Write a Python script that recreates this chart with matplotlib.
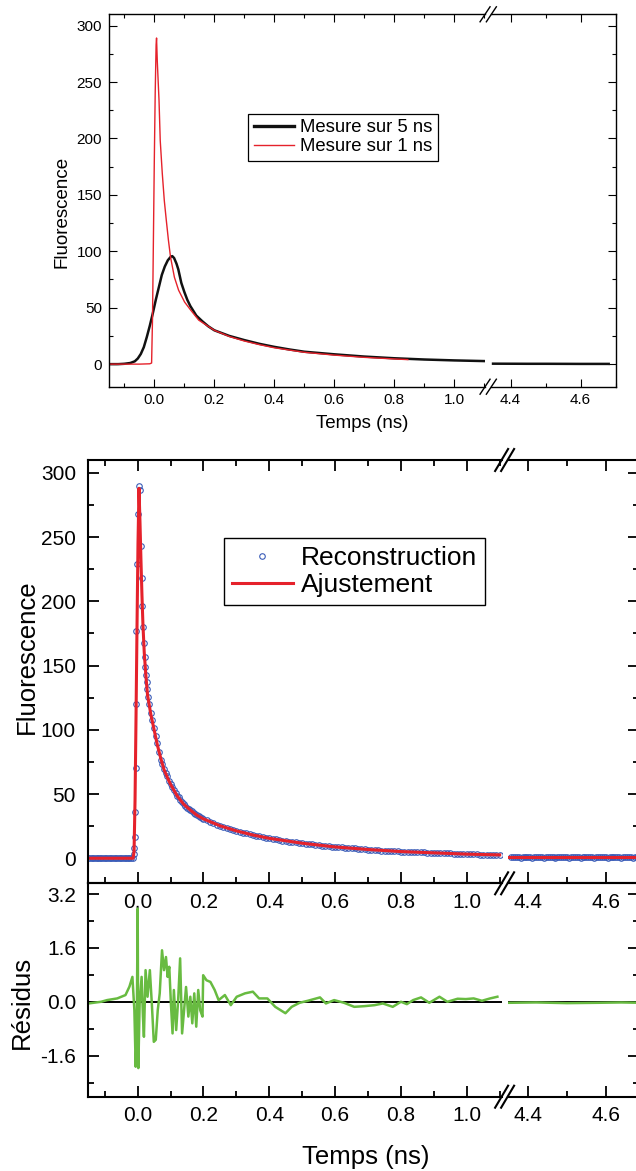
import numpy as np
import matplotlib
matplotlib.use('Agg')
import matplotlib.pyplot as plt
from matplotlib.lines import Line2D
from matplotlib.ticker import MultipleLocator, FormatStrFormatter

plt.rcParams['font.family'] = ['Liberation Sans', 'DejaVu Sans']

# ---------------- donnees ----------------
# mesure sur la fenetre 5 ns (noir)
t_5ns = [-0.15, -0.12, -0.10, -0.08, -0.065, -0.055, -0.045, -0.035, -0.025, -0.015,
         -0.005, 0.005, 0.015, 0.025, 0.035, 0.045, 0.055, 0.060, 0.066, 0.074,
         0.08, 0.09, 0.10, 0.11, 0.12, 0.14, 0.16, 0.18, 0.20, 0.25,
         0.30, 0.35, 0.40, 0.45, 0.50, 0.60, 0.70, 0.80, 0.90, 1.00, 1.10]
v_5ns = [0.0, 0.0, 0.3, 1.0, 2.5, 5.0, 9.0, 15.0, 24.0, 34.0,
         45.0, 57.0, 68.0, 79.0, 86.5, 92.0, 95.2, 95.7, 94.0, 89.0,
         84.0, 72.0, 64.0, 57.0, 51.5, 43.0, 38.0, 33.5, 30.0, 25.0,
         21.3, 18.0, 15.3, 13.0, 11.0, 8.7, 6.7, 5.2, 4.1, 3.3, 2.7]
t_5ns_tail = [4.35, 4.40, 4.45, 4.50, 4.55, 4.60, 4.65, 4.68]
v_5ns_tail = [0.4, 0.35, 0.3, 0.3, 0.25, 0.2, 0.2, 0.2]

# mesure sur la fenetre 1 ns (rouge)
t_1ns = [-0.15, -0.05, -0.015, -0.009, -0.006, -0.003, 0.0, 0.003, 0.006, 0.0075,
         0.010, 0.0157, 0.0198, 0.0266, 0.0333, 0.040, 0.047, 0.054, 0.067, 0.081,
         0.101, 0.121, 0.148, 0.20, 0.25, 0.30, 0.35, 0.40, 0.50, 0.60,
         0.70, 0.80, 0.845]
v_1ns = [0.0, 0.0, 0.3, 1.0, 40.0, 110.0, 180.0, 240.0, 283.0, 289.0,
         268.0, 234.0, 198.0, 169.0, 145.0, 127.5, 110.0, 95.0, 77.0, 65.5,
         55.0, 48.0, 39.0, 30.0, 24.5, 20.5, 17.3, 14.5, 10.5, 8.0,
         6.0, 4.6, 4.0]

# reconstruction (cercles)
recon_base_v = [0.0] * 28                       # -0.150 .. -0.015 ns
recon_peak_t = [-0.0125, -0.0115, -0.009, -0.008, -0.0045, -0.005, -0.005, -0.002,
                0.001, 0.004, 0.0065, 0.0106, 0.013, 0.0143, 0.0167, 0.019,
                0.0216, 0.0228, 0.0252, 0.0279, 0.029, 0.031]
recon_peak_v = [3.0, 7.8, 16.8, 36.3, 70.0, 119.8, 177.0, 228.7,
                268.0, 289.7, 287.0, 243.0, 218.0, 196.0, 179.7, 167.7,
                156.6, 149.0, 143.0, 137.4, 131.5, 125.7]
recon_fast_v = [120.0, 113.0, 107.5, 101.0, 95.5, 89.5, 83.0, 76.5, 73.0, 69.5,
                66.0, 64.0, 60.0, 57.5, 55.5, 53.5, 50.5, 48.5, 47.5, 45.0,
                43.5, 42.5, 40.5, 39.5, 38.5, 37.8, 36.5, 35.5, 34.8, 33.5,
                32.8, 32.0, 31.3, 30.6]             # 0.035 .. 0.200 ns
recon_slow_v = [29.5, 28.3, 27.2, 26.2, 25.3, 24.4, 23.6, 22.8, 22.0, 21.3,
                20.6, 19.9, 19.3, 18.7, 18.1, 17.5, 17.0, 16.5, 16.0, 15.5,
                15.0, 14.6, 14.2, 13.8, 13.4, 13.0, 12.7, 12.3, 12.0, 11.7,
                11.4, 11.1, 10.8, 10.5, 10.2, 9.9, 9.6, 9.3, 9.0, 8.8,
                8.6, 8.4, 8.2, 8.0, 7.8, 7.6, 7.4, 7.2, 7.0, 6.8,
                6.6, 6.4, 6.2, 6.0, 5.8, 5.7, 5.6, 5.5, 5.3, 5.2,
                5.1, 5.0, 4.9, 4.8, 4.7, 4.6, 4.5, 4.4, 4.3, 4.2,
                4.1, 4.0, 3.9, 3.8, 3.7, 3.6, 3.5, 3.4, 3.3, 3.2,
                3.1, 3.0, 3.0, 2.9, 2.9, 2.8, 2.8, 2.7, 2.7, 2.6]  # 0.21 .. 1.10 ns
recon_tail_v = [0.7, 0.6, 0.6, 0.7, 0.6, 0.5, 0.6, 0.6, 0.7, 0.6,
                0.6, 0.5, 0.6, 0.6, 0.7, 0.6, 0.6, 0.5, 0.6, 0.6,
                0.6, 0.7, 0.6, 0.5, 0.6, 0.6, 0.6, 0.7, 0.6, 0.6,
                0.5, 0.6, 0.6, 0.6, 0.7, 0.6, 0.5, 0.6, 0.6, 0.6,
                0.6, 0.7, 0.6, 0.5, 0.6, 0.6, 0.6, 0.6, 0.7, 0.6,
                0.5, 0.6, 0.6, 0.6, 0.7, 0.6, 0.6, 0.5, 0.6, 0.6,
                0.6, 0.7, 0.6, 0.5, 0.6, 0.6, 0.6]  # 4.355 .. 4.685 ns

# ajustement (ligne rouge)
fit_t = [-0.15, -0.014, -0.011, -0.008, -0.005, -0.002, 0.001, 0.004, 0.007, 0.010,
         0.013, 0.016, 0.020, 0.025, 0.030, 0.040, 0.050, 0.060, 0.070, 0.080,
         0.090, 0.100, 0.120, 0.140, 0.160, 0.180, 0.200, 0.250, 0.300, 0.350,
         0.400, 0.500, 0.600, 0.700, 0.800, 0.900, 1.000, 1.100]
fit_v = [0.0, 0.0, 5.0, 45.0, 110.0, 180.0, 245.0, 288.0, 262.0, 232.0,
         205.0, 182.0, 160.0, 142.0, 127.0, 112.0, 100.0, 88.0, 78.0, 69.0,
         63.0, 57.5, 48.5, 42.0, 37.5, 33.5, 30.6, 25.3, 21.3, 18.1,
         15.5, 11.7, 8.8, 6.8, 5.2, 4.2, 3.2, 2.6]
fit_tail_t = [4.35, 4.45, 4.55, 4.69]
fit_tail_v = [0.6, 0.6, 0.6, 0.6]

# residus
res_t = [-0.15, -0.111, -0.093, -0.062, -0.037, -0.025, -0.016, -0.010, -0.006, -0.003,
         0.000, 0.002, 0.006, 0.012, 0.016, 0.019, 0.024, 0.030, 0.037, 0.043,
         0.049, 0.055, 0.061, 0.067, 0.074, 0.080, 0.086, 0.091, 0.096, 0.101,
         0.106, 0.110, 0.117, 0.123, 0.129, 0.135, 0.141, 0.147, 0.154, 0.160,
         0.166, 0.172, 0.178, 0.184, 0.190, 0.197, 0.199, 0.209, 0.221, 0.234,
         0.246, 0.265, 0.283, 0.301, 0.326, 0.350, 0.369, 0.394, 0.418, 0.449,
         0.468, 0.492, 0.517, 0.554, 0.572, 0.597, 0.627, 0.658, 0.689, 0.720,
         0.745, 0.775, 0.800, 0.818, 0.837, 0.861, 0.886, 0.917, 0.941, 0.972,
         0.997, 1.021, 1.046, 1.071, 1.093]
res_v = [-0.05, 0.00, 0.05, 0.10, 0.20, 0.45, 0.74, -0.25, -1.93, -1.04,
         2.77, -1.97, -0.05, 0.74, -0.44, -1.04, 0.94, 0.15, 0.94, -0.05,
         -1.19, -1.13, -0.25, 0.25, 1.53, 0.94, 1.33, 0.74, 1.04, -0.05,
         -0.94, 0.35, -0.84, 0.05, 1.29, -0.94, -0.25, 0.44, -0.44, 0.15,
         -0.64, 0.25, -0.74, 0.35, -0.25, -0.44, 0.79, 0.64, 0.59, 0.35,
         0.05, 0.20, -0.10, 0.15, 0.25, 0.30, 0.10, 0.10, -0.15, -0.34,
         -0.15, -0.03, 0.03, 0.13, -0.05, 0.05, -0.03, -0.15, -0.13, -0.10,
         -0.05, -0.15, 0.00, -0.07, 0.05, 0.13, -0.03, 0.15, 0.00, 0.09,
         0.08, 0.10, 0.03, 0.10, 0.15]
res_tail_t = [4.35, 4.42, 4.50, 4.58, 4.64, 4.69]
res_tail_v = [-0.03, -0.02, -0.04, -0.03, -0.02, -0.03]

# grilles d'echantillonnage de la reconstruction
recon_base_t = np.linspace(-0.150, -0.015, len(recon_base_v))
recon_fast_t = np.linspace(0.035, 0.200, len(recon_fast_v))
recon_slow_t = np.linspace(0.21, 1.10, len(recon_slow_v))
recon_tail_t = np.linspace(4.355, 4.685, len(recon_tail_v))

recon_t = np.concatenate([recon_base_t, recon_peak_t, recon_fast_t, recon_slow_t])
recon_v = np.concatenate([recon_base_v, recon_peak_v, recon_fast_v, recon_slow_v])

RED = '#e5222b'
BLUE = '#3a5cb8'
GREEN = '#68bb41'

# ---------------- mise en page (pixels) ----------------
W, H = 636, 1171
fig = plt.figure(figsize=(W / 100, H / 100), dpi=100)


def box(x0, x1, y0, y1):
    return [x0 / W, 1 - y1 / H, (x1 - x0) / W, (y1 - y0) / H]


def style(ax, side, fs, maj, mnr, tw, sw, padx, pady, top=True):
    for s in ax.spines.values():
        s.set_linewidth(sw)
    if side == 'left':
        ax.spines['right'].set_visible(False)
        ax.tick_params(which='both', left=True, right=False, labelleft=True)
    else:
        ax.spines['left'].set_visible(False)
        ax.tick_params(which='both', left=False, right=True, labelleft=False)
    ax.tick_params(which='both', direction='in', width=tw, labelsize=fs,
                   top=top, bottom=True, labelbottom=True)
    ax.tick_params(which='major', length=maj)
    ax.tick_params(which='minor', length=mnr)
    ax.tick_params(axis='x', pad=padx)
    ax.tick_params(axis='y', pad=pady)
    ax.xaxis.set_major_locator(MultipleLocator(0.2))
    ax.xaxis.set_minor_locator(MultipleLocator(0.1))
    ax.xaxis.set_major_formatter(FormatStrFormatter('%.1f'))
    ax.set_facecolor('none')


def slashes(xc, yc, dx, dy, sep, lw):
    for off in (-sep / 2, sep / 2):
        fig.add_artist(Line2D([(xc + off - dx) / W, (xc + off + dx) / W],
                              [1 - (yc + dy) / H, 1 - (yc - dy) / H],
                              transform=fig.transFigure, color='k', lw=lw))


# ---- panneau du haut : deux mesures ----
top_l = fig.add_axes(box(109.3, 485, 14.3, 386.7))
top_r = fig.add_axes(box(491.3, 615.7, 14.3, 386.7))
for ax, side in ((top_l, 'left'), (top_r, 'right')):
    style(ax, side, 11, 5.8, 2.9, 0.8, 1.0, 4.6, 5.3)
    ax.set_ylim(-20, 310)
    ax.yaxis.set_major_locator(MultipleLocator(50))
    ax.yaxis.set_minor_locator(MultipleLocator(25))
top_l.set_xlim(-0.15, 1.1023)
top_r.set_xlim(4.345, 4.70)

l5, = top_l.plot(t_5ns, v_5ns, color='#111111', lw=1.8, label='Mesure sur 5 ns')
l1, = top_l.plot(t_1ns, v_1ns, color=RED, lw=1.0, label='Mesure sur 1 ns')
top_r.plot(t_5ns_tail, v_5ns_tail, color='#111111', lw=1.8)

leg = top_l.legend(handles=[l5, l1], loc='upper left',
                   bbox_to_anchor=(248 / W, 1 - 113.7 / H), bbox_transform=fig.transFigure,
                   fontsize=13.3, frameon=True, fancybox=False, edgecolor='k',
                   framealpha=1, borderaxespad=0, borderpad=0.3, labelspacing=0.12,
                   handlelength=2.2, handletextpad=0.3)
leg.get_frame().set_linewidth(0.9)
leg.legend_handles[0].set_linewidth(2.4)

fig.text(362 / W, 1 - 424 / H, 'Temps (ns)', ha='center', va='center', fontsize=13.5)
fig.text(62 / W, 1 - 212 / H, 'Fluorescence', ha='center', va='center',
         rotation=90, fontsize=13.5)
slashes(488.2, 386.7, 5, 7.5, 6.3, 1.0)
slashes(488.2, 14.3, 5, 7.5, 6.3, 1.0)

# ---- panneau du milieu : reconstruction + ajustement ----
mid_l = fig.add_axes(box(88.3, 502, 460, 883.3))
mid_r = fig.add_axes(box(507.5, 639, 460, 883.3))
res_l = fig.add_axes(box(88.3, 502, 883.3, 1096.7))
res_r = fig.add_axes(box(507.5, 639, 883.3, 1096.7))

for ax, side in ((mid_l, 'left'), (mid_r, 'right')):
    style(ax, side, 15, 7.9, 4.0, 1.3, 1.5, 7.2, 8.9)
    ax.set_ylim(-19.5, 310)
    ax.yaxis.set_major_locator(MultipleLocator(50))
    ax.yaxis.set_minor_locator(MultipleLocator(25))
mid_l.set_xlim(-0.150, 1.107)
mid_r.set_xlim(4.346, 4.686)

pts, = mid_l.plot(recon_t, recon_v, 'o', mfc='none', mec=BLUE, ms=4.0, mew=0.8,
                  label='Reconstruction')
fit, = mid_l.plot(fit_t, fit_v, color=RED, lw=2.2, label='Ajustement')
mid_r.plot(recon_tail_t, recon_tail_v, 'o', mfc='none', mec=BLUE, ms=4.0, mew=0.8)
mid_r.plot(fit_tail_t, fit_tail_v, color=RED, lw=2.2)

leg2 = mid_l.legend(handles=[pts, fit], loc='upper left',
                    bbox_to_anchor=(224 / W, 1 - 538 / H), bbox_transform=fig.transFigure,
                    fontsize=19, frameon=True, fancybox=False, edgecolor='k',
                    framealpha=1, borderaxespad=0, borderpad=0.3, labelspacing=0.12,
                    handlelength=2.3, handletextpad=0.3, numpoints=1)
leg2.get_frame().set_linewidth(1.0)

# ---- panneau du bas : residus ----
for ax, side in ((res_l, 'left'), (res_r, 'right')):
    style(ax, side, 15, 7.9, 4.0, 1.3, 1.5, 6.9, 8.9, top=False)
    ax.set_ylim(-2.82, 3.52)
    ax.yaxis.set_major_locator(MultipleLocator(1.6))
    ax.yaxis.set_minor_locator(MultipleLocator(0.8))
    ax.yaxis.set_major_formatter(FormatStrFormatter('%.1f'))
    ax.axhline(0, color='k', lw=1.4, zorder=1)
res_l.set_xlim(-0.150, 1.107)
res_r.set_xlim(4.346, 4.686)

res_l.plot(res_t, res_v, color=GREEN, lw=1.8, zorder=2)
res_r.plot(res_tail_t, res_tail_v, color=GREEN, lw=1.8, zorder=2)

fig.text(366 / W, 1 - 1157 / H, 'Temps (ns)', ha='center', va='center', fontsize=18.5)
fig.text(27 / W, 1 - 657 / H, 'Fluorescence', ha='center', va='center',
         rotation=90, fontsize=18.5)
fig.text(22 / W, 1 - 1002 / H, 'Résidus', ha='center', va='center',
         rotation=90, fontsize=18.5)
slashes(504.6, 460, 6.5, 11, 6, 1.5)
slashes(504.6, 883.3, 6.5, 11, 6, 1.5)
slashes(504.6, 1096.7, 6.5, 11, 6, 1.5)

fig.savefig('out.png', dpi=100)
